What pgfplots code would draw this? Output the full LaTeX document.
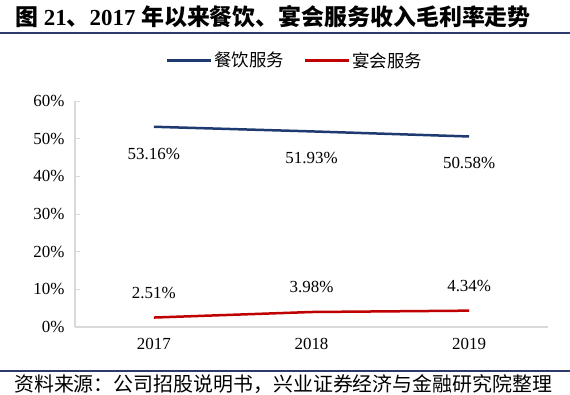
\documentclass[border=0pt]{standalone}
\usepackage{fontspec}
\setmainfont{Liberation Serif}
\newfontfamily\cjk{Noto Sans CJK SC}
\usepackage{pgfplots}
\pgfplotsset{compat=1.18}
\definecolor{navy}{HTML}{1F3A70}
\definecolor{dred}{HTML}{C00000}
\definecolor{rulec}{HTML}{2E3A6B}
\definecolor{axgray}{HTML}{D9D9D9}
\begin{document}
\begin{tikzpicture}
\path[use as bounding box] (0bp,0bp) rectangle (570bp,395bp);
\fill[white] (0bp,0bp) rectangle (570bp,395bp);
\draw[rulec, line width=2bp] (0bp,362bp) -- (570bp,362bp);
\draw[rulec, line width=2bp] (0bp,24bp) -- (570bp,24bp);
\node[anchor=west, inner sep=0pt, font=\fontsize{23}{25}\selectfont\bfseries] at (15bp,378bp)
  {{\cjk 图} 21{\cjk 、}2017 {\cjk 年以来餐饮、宴会服务收入毛利率走势}};
\node[anchor=west, inner sep=0pt, font=\fontsize{20}{21}\selectfont] at (14bp,11bp)
  {\cjk 资料来源：公司招股说明书，兴业证券经济与金融研究院整理};
\begin{axis}[
  at={(75bp,68bp)}, anchor=south west,
  scale only axis, width=473bp, height=226bp,
  xmin=-0.5, xmax=2.5, ymin=0, ymax=60,
  xtick={0,1,2}, xticklabels={2017,2018,2019},
  ytick={0,10,...,60},
  /pgf/number format/assume math mode=true,
  yticklabel={\pgfmathprintnumber{\tick}\%},
  axis x line*=bottom, axis y line*=left,
  axis line style={draw=axgray, line width=1.2bp, -},
  tick align=inside,
  major tick length=5bp,
  ytick style={draw=axgray, line width=1bp},
  xtick style={draw=none},
  tick label style={font=\fontsize{17}{18}\selectfont},
  yticklabel style={xshift=-7bp},
  xticklabel style={yshift=-8bp},
  clip=false,
  legend style={draw=none, fill=none, legend columns=2, at={(0.465,1.18)}, anchor=center,
    font=\fontsize{17.5}{18}\selectfont,
    /tikz/every even column/.append style={column sep=18bp}},
  legend image code/.code={\draw[#1, line width=2.5bp] (0bp,0bp) -- (44bp,0bp);},
  every node near coord/.append style={font=\fontsize{17}{18}\selectfont, anchor=center, text=black},
  point meta=y,
  nodes near coords={\pgfmathprintnumber[fixed,precision=2,fixed zerofill]{\pgfplotspointmeta}\%},
]
\addplot[navy, line width=2.5bp, every node near coord/.append style={yshift=-27bp}] coordinates {(0,53.16) (1,51.93) (2,50.58)};
\addlegendentry{\cjk 餐饮服务}
\addplot[dred, line width=2.5bp, every node near coord/.append style={yshift=25bp}] coordinates {(0,2.51) (1,3.98) (2,4.34)};
\addlegendentry{\cjk 宴会服务}
\end{axis}
\end{tikzpicture}
\end{document}
